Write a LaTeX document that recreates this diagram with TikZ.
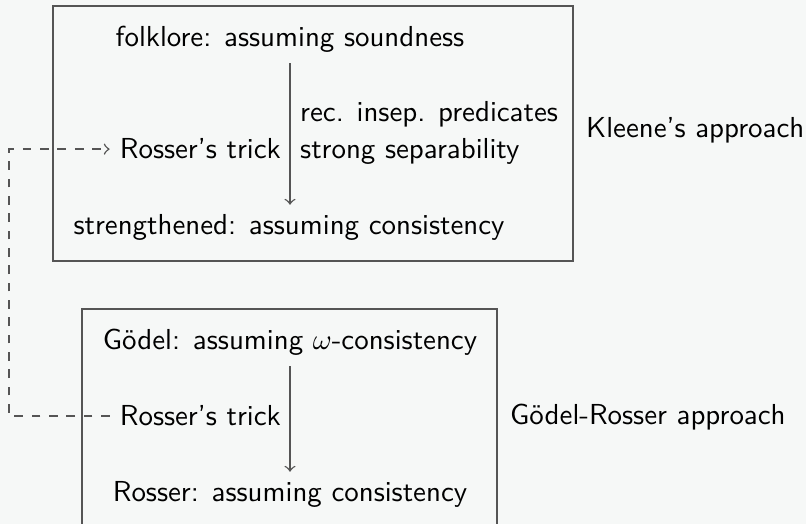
\documentclass[tikz,border=0pt]{standalone}
\usetikzlibrary{arrows}
\definecolor{bgc}{RGB}{246,248,247}
\definecolor{linec}{RGB}{85,85,85}
\begin{document}
\begin{tikzpicture}[x=0.346pt,y=-0.346pt,
  font=\sffamily,
  frame/.style={draw=linec,line width=0.5pt},
  lbl/.style={anchor=base,inner sep=3.33pt},
  flow/.style={draw=linec,line width=0.5pt,->},
  link/.style={draw=linec,line width=0.5pt,dashed,->}]
\fill[bgc] (0,0) rectangle (806,524);
\useasboundingbox (0,0) rectangle (806,524);
\clip (0,0) rectangle (806,524);
% boxes
\draw[frame] (53,6) rectangle (573,261);
\draw[frame] (82,309) rectangle (497,560);
% upper box
\node[lbl] (folk) at (290,47) {folklore: assuming soundness};
\node[lbl] (rec) at (290,122) [anchor=base west] {rec. insep. predicates};
\node[lbl] (sep) at (290,159) [anchor=base west] {strong separability};
\node[lbl] (rt1) at (291,159) [anchor=base east] {Rosser's trick};
\node[lbl] (str) at (289,235) {strengthened: assuming consistency};
\node[lbl] (kl) at (576,138) [anchor=base west] {Kleene's approach};
% lower box
\node[lbl] (god) at (290,350) {G\"odel: assuming $\omega$-consistency};
\node[lbl] (rt2) at (291,426) [anchor=base east] {Rosser's trick};
\node[lbl] (ros) at (290,502) {Rosser: assuming consistency};
\node[lbl] (gr) at (500,425) [anchor=base west] {G\"odel-Rosser approach};
% arrows
\draw[flow] (folk.south) -- (folk.south |- str.north);
\draw[flow] (god.south) -- (god.south |- ros.north);
\coordinate (dl) at (9,300);
\draw[link] (rt2.west) -| (dl) |- (rt1.west);
\end{tikzpicture}
\end{document}
